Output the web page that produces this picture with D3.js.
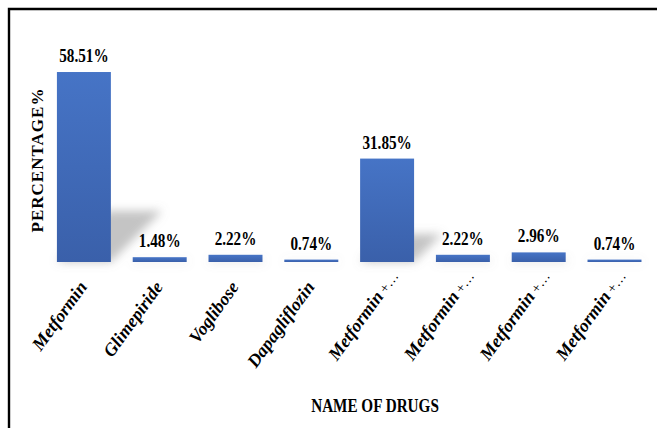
<!DOCTYPE html>
<html>
<head>
<meta charset="utf-8">
<script src="https://cdn.jsdelivr.net/npm/d3@7"></script>
<style>
  html, body { margin: 0; padding: 0; background: #fff; }
  svg { display: block; }
</style>
</head>
<body>
<div id="chart"></div>
<script>
// ---- data ----
const categories = ["Metformin", "Glimepiride", "Voglibose", "Dapagliflozin",
                    "Metformin +…", "Metformin +…", "Metformin +…", "Metformin +…"];
const values = [58.51, 1.48, 2.22, 0.74, 31.85, 2.22, 2.96, 0.74];
const valueLabels = ["58.51%", "1.48%", "2.22%", "0.74%", "31.85%", "2.22%", "2.96%", "0.74%"];
const xTitle = "NAME OF DRUGS";
const yTitle = "PERCENTAGE%";

// ---- layout ----
const W = 657, H = 428;
const base = 262;
const svg = d3.select("#chart").append("svg").attr("width", W).attr("height", H);

const defs = svg.append("defs");
const grad = defs.append("linearGradient").attr("id", "barGrad")
  .attr("x1", 0).attr("y1", 0).attr("x2", 0).attr("y2", 1);
grad.append("stop").attr("offset", "0%").attr("stop-color", "#4674c6");
grad.append("stop").attr("offset", "100%").attr("stop-color", "#3a60aa");
const blur = defs.append("filter").attr("id", "shBlur")
  .attr("x", "-50%").attr("y", "-50%").attr("width", "200%").attr("height", "200%");
blur.append("feGaussianBlur").attr("stdDeviation", 5);

// frame
svg.append("rect").attr("x", 0).attr("y", 0).attr("width", W).attr("height", H).attr("fill", "#fff");
svg.append("path").attr("d", `M9,${H + 5} L9,9 L${W + 5},9`)
  .attr("fill", "none").attr("stroke", "#000").attr("stroke-width", 2.4);

const idx = d3.range(categories.length);
const x = d3.scaleBand().domain(idx).range([46, 652.4]).paddingInner(0.288).paddingOuter(0.144);
const y = d3.scaleLinear().domain([0, 60]).range([base, base - 60 * 3.247]);

// shadows (perspective style)
const s = 0.27;
svg.append("g").attr("filter", "url(#shBlur)")
  .selectAll("path").data(idx).join("path")
  .attr("d", i => {
    const x0 = x(i), x1 = x0 + x.bandwidth(), h = base - y(values[i]);
    return `M${x0},${base} L${x1},${base} L${x1 + s * h},${base - s * h} L${x0 + s * h},${base - s * h} Z`;
  })
  .attr("fill", "#8a8a8a").attr("opacity", 0.5);

// bars
svg.append("g").selectAll("rect").data(idx).join("rect")
  .attr("x", i => x(i))
  .attr("y", i => y(values[i]))
  .attr("width", x.bandwidth())
  .attr("height", i => base - y(values[i]))
  .attr("fill", "url(#barGrad)");

// value labels
svg.append("g").selectAll("text").data(idx).join("text")
  .attr("transform", i => `translate(${x(i) + x.bandwidth() / 2},${y(values[i]) - 10}) scale(0.8,1)`)
  .attr("text-anchor", "middle")
  .attr("font-family", "'Liberation Serif', 'Times New Roman', serif")
  .attr("font-weight", "bold")
  .attr("font-size", 19)
  .attr("fill", "#000")
  .text(i => valueLabels[i]);

// category labels
const ang = -54;
const rad = ang * Math.PI / 180;
const ux = Math.cos(rad), uy = Math.sin(rad);
const lab = svg.append("g");
idx.forEach(i => {
  const full = categories[i];
  const m = full.match(/^(.*?)(\s*\+…)$/);
  const main = m ? m[1] : full;
  const suffix = m ? m[2] : null;
  const cx = x(i) + x.bandwidth() / 2;
  let ax = cx + 4, ay = 287;
  if (suffix) { ax -= 12 * ux; ay -= 12 * uy; }
  lab.append("text")
    .attr("transform", `translate(${ax},${ay}) rotate(${ang})`)
    .attr("text-anchor", "end")
    .attr("font-family", "'Liberation Serif', 'Times New Roman', serif")
    .attr("font-weight", "bold").attr("font-style", "italic")
    .attr("font-size", 18).attr("fill", "#000")
    .text(main);
  if (suffix) {
    lab.append("text")
      .attr("transform", `translate(${ax},${ay}) rotate(${ang})`)
      .attr("text-anchor", "start")
      .attr("font-family", "'Liberation Serif', 'Times New Roman', serif")
      .attr("font-size", 14).attr("fill", "#000")
      .attr("xml:space", "preserve")
      .text(suffix);
  }
});

// axis titles
svg.append("text")
  .attr("transform", "translate(375,412) scale(0.8,1)")
  .attr("text-anchor", "middle")
  .attr("font-family", "'Liberation Serif', 'Times New Roman', serif")
  .attr("font-weight", "bold").attr("font-size", 19).attr("fill", "#000")
  .text(xTitle);

svg.append("text")
  .attr("transform", "translate(43,160) rotate(-90)")
  .attr("text-anchor", "middle")
  .attr("font-family", "'Liberation Serif', 'Times New Roman', serif")
  .attr("font-weight", "bold").attr("font-size", 17)
  .attr("letter-spacing", 1).attr("fill", "#000")
  .text(yTitle);
</script>
</body>
</html>
